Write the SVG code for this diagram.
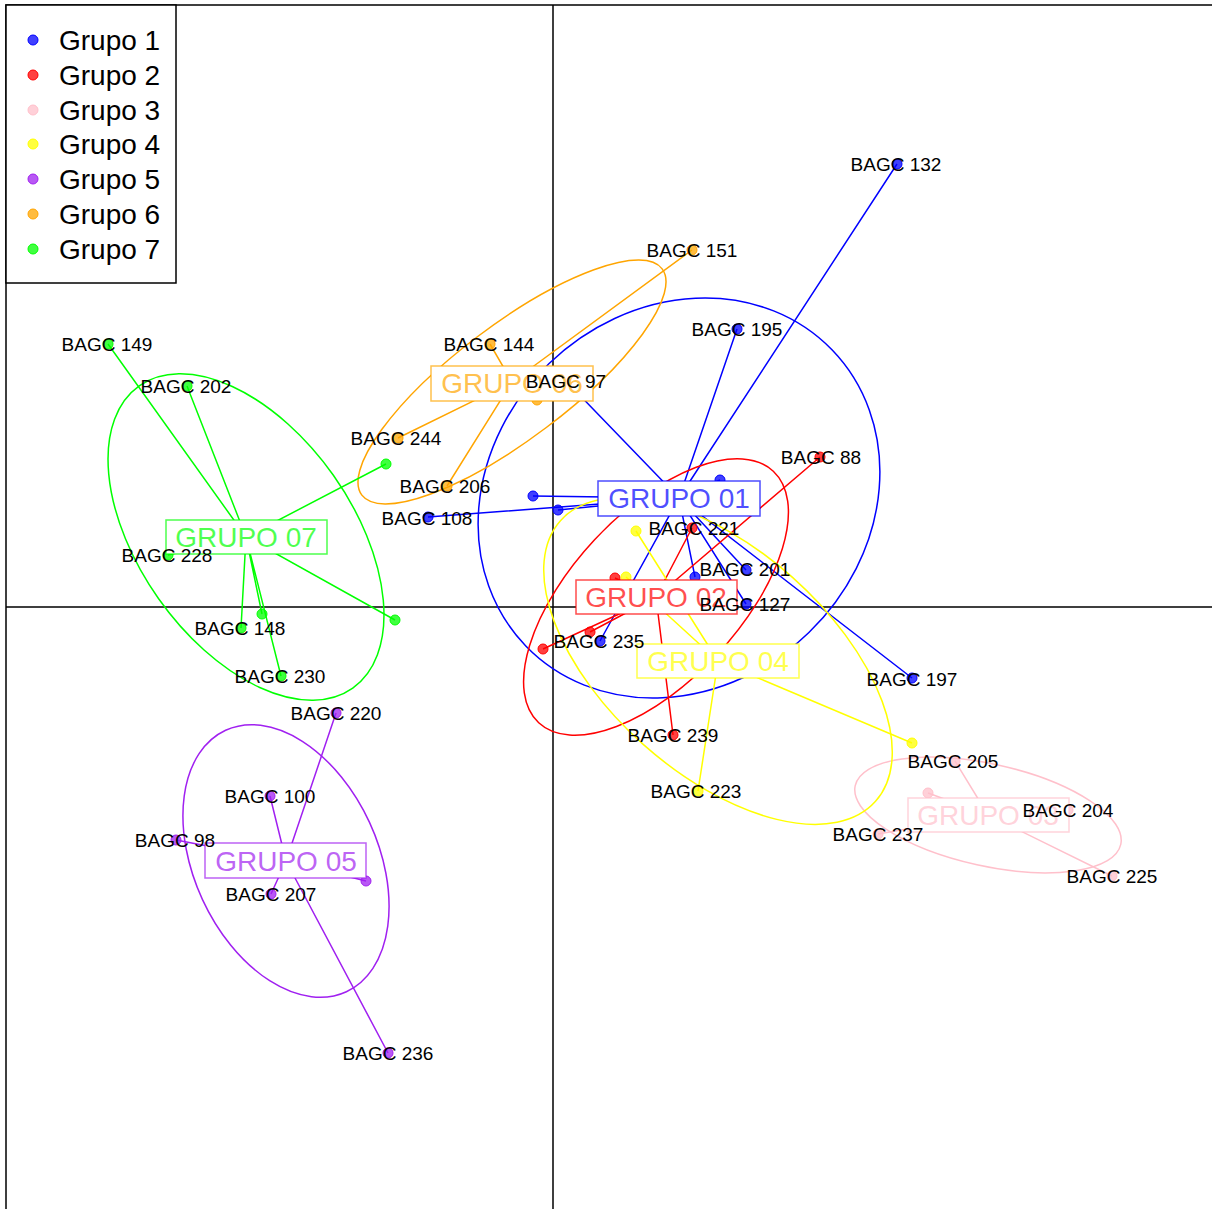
<svg xmlns="http://www.w3.org/2000/svg" width="1212" height="1209" viewBox="0 0 1212 1209">
<style>
text{font-family:"Liberation Sans",Arial,sans-serif}
.ax{stroke:#000;stroke-width:1.5;fill:none}
.lbl{font-size:19px;fill:#000;text-anchor:middle}
.leg{font-size:28px;fill:#000}
.gl{font-size:28px;text-anchor:middle;fill-opacity:0.7}
.gb{fill:#fff;stroke-width:1.5;stroke-opacity:0.7}
.c path,.c ellipse{fill:none;stroke-width:1.5}
.pt{stroke:none;fill-opacity:0.75}
.k1{stroke:#0000ff;fill:#0000ff}.k2{stroke:#ff0000;fill:#ff0000}.k3{stroke:#ffc0cb;fill:#ffc0cb}.k4{stroke:#ffff00;fill:#ffff00}.k5{stroke:#a020f0;fill:#a020f0}.k6{stroke:#ffa500;fill:#ffa500}.k7{stroke:#00ff00;fill:#00ff00}
</style>
<rect width="1212" height="1209" fill="#fff"/>
<g id="axes">
<path class="ax" d="M6,1209V5H1212"/>
<path class="ax" d="M553,5V1209M6,607H1212"/>
</g>
<g id="connectors" class="c">
<g id="c1" class="k1">
<ellipse cx="679" cy="498" rx="213" ry="187" transform="rotate(-44 679 498)" fill="none"/>
<path d="M679,498L897,164M679,498L737,329M679,498L566,381M679,498L428,517M679,498L533,496M679,498L558,510M679,498L720,480M679,498L746,570M679,498L746,604M679,498L912,678M679,498L600,641M679,498L695,577"/>
</g>
<g id="c2" class="k2">
<ellipse cx="656" cy="597" rx="172" ry="84" transform="rotate(-47 656 597)" fill="none"/>
<path d="M656,597L820,457M656,597L692,528M656,597L615,578M656,597L590,632M656,597L543,649M656,597L673,735"/>
</g>
<g id="c3" class="k3">
<ellipse cx="988" cy="815" rx="136" ry="51" transform="rotate(12.5 988 815)" fill="none"/>
<path d="M988,815L955,761M988,815L928,793M988,815L1068,810M988,815L878,834M988,815L1112,876"/>
</g>
<g id="c4" class="k4">
<ellipse cx="718" cy="661" rx="211" ry="112" transform="rotate(41.7 718 661)" fill="none"/>
<path d="M718,661L636,531M718,661L626,577M718,661L912,743M718,661L698,791"/>
</g>
<g id="c5" class="k5">
<ellipse cx="286" cy="861" rx="144" ry="92" transform="rotate(65.2 286 861)" fill="none"/>
<path d="M286,861L336,713M286,861L270,796M286,861L176,840M286,861L271,894M286,861L366,881M286,861L388,1053"/>
</g>
<g id="c6" class="k6">
<ellipse cx="512" cy="382" rx="188" ry="57" transform="rotate(-37 512 382)" fill="none"/>
<path d="M512,382L692,250M512,382L490,344M512,382L398,438M512,382L447,486M512,382L537,400"/>
</g>
<g id="c7" class="k7">
<ellipse cx="246" cy="537" rx="185" ry="107" transform="rotate(54.75 246 537)" fill="none"/>
<path d="M246,537L108,344M246,537L187,386M246,537L386,464M246,537L168,555M246,537L395,620M246,537L241,628M246,537L262,614M246,537L281,676"/>
</g>
</g>
<g id="points">
<g id="p132" class="pt k1"><circle cx="897" cy="164" r="5"/></g>
<g id="p195" class="pt k1"><circle cx="737" cy="329" r="5"/></g>
<g id="p97" class="pt k1"><circle cx="566" cy="381" r="5"/></g>
<g id="p108" class="pt k1"><circle cx="428" cy="517" r="5"/></g>
<g id="p1a" class="pt k1"><circle cx="533" cy="496" r="5"/></g>
<g id="p1b" class="pt k1"><circle cx="558" cy="510" r="5"/></g>
<g id="p1c" class="pt k1"><circle cx="720" cy="480" r="5"/></g>
<g id="p201" class="pt k1"><circle cx="746" cy="570" r="5"/></g>
<g id="p127" class="pt k1"><circle cx="746" cy="604" r="5"/></g>
<g id="p197" class="pt k1"><circle cx="912" cy="678" r="5"/></g>
<g id="p235" class="pt k1"><circle cx="600" cy="641" r="5"/></g>
<g id="p1d" class="pt k1"><circle cx="695" cy="577" r="5"/></g>
<g id="p88" class="pt k2"><circle cx="820" cy="457" r="5"/></g>
<g id="p221" class="pt k2"><circle cx="692" cy="528" r="5"/></g>
<g id="p2a" class="pt k2"><circle cx="615" cy="578" r="5"/></g>
<g id="p2b" class="pt k2"><circle cx="590" cy="632" r="5"/></g>
<g id="p2c" class="pt k2"><circle cx="543" cy="649" r="5"/></g>
<g id="p239" class="pt k2"><circle cx="673" cy="735" r="5"/></g>
<g id="p205" class="pt k3"><circle cx="955" cy="761" r="5"/></g>
<g id="p3a" class="pt k3"><circle cx="928" cy="793" r="5"/></g>
<g id="p204" class="pt k3"><circle cx="1068" cy="810" r="5"/></g>
<g id="p237" class="pt k3"><circle cx="878" cy="834" r="5"/></g>
<g id="p225" class="pt k3"><circle cx="1112" cy="876" r="5"/></g>
<g id="p4a" class="pt k4"><circle cx="636" cy="531" r="5"/></g>
<g id="p4b" class="pt k4"><circle cx="626" cy="577" r="5"/></g>
<g id="p4c" class="pt k4"><circle cx="912" cy="743" r="5"/></g>
<g id="p223" class="pt k4"><circle cx="698" cy="791" r="5"/></g>
<g id="p220" class="pt k5"><circle cx="336" cy="713" r="5"/></g>
<g id="p100" class="pt k5"><circle cx="270" cy="796" r="5"/></g>
<g id="p98" class="pt k5"><circle cx="176" cy="840" r="5"/></g>
<g id="p207" class="pt k5"><circle cx="271" cy="894" r="5"/></g>
<g id="p5a" class="pt k5"><circle cx="366" cy="881" r="5"/></g>
<g id="p236" class="pt k5"><circle cx="388" cy="1053" r="5"/></g>
<g id="p151" class="pt k6"><circle cx="692" cy="250" r="5"/></g>
<g id="p144" class="pt k6"><circle cx="490" cy="344" r="5"/></g>
<g id="p244" class="pt k6"><circle cx="398" cy="438" r="5"/></g>
<g id="p206" class="pt k6"><circle cx="447" cy="486" r="5"/></g>
<g id="p6a" class="pt k6"><circle cx="537" cy="400" r="5"/></g>
<g id="p149" class="pt k7"><circle cx="108" cy="344" r="5"/></g>
<g id="p202" class="pt k7"><circle cx="187" cy="386" r="5"/></g>
<g id="p7a" class="pt k7"><circle cx="386" cy="464" r="5"/></g>
<g id="p228" class="pt k7"><circle cx="168" cy="555" r="5"/></g>
<g id="p7b" class="pt k7"><circle cx="395" cy="620" r="5"/></g>
<g id="p148" class="pt k7"><circle cx="241" cy="628" r="5"/></g>
<g id="p7c" class="pt k7"><circle cx="262" cy="614" r="5"/></g>
<g id="p230" class="pt k7"><circle cx="281" cy="676" r="5"/></g>
</g>
<g id="group-labels">
<g id="g01"><rect class="gb" x="598" y="481" width="162" height="35" stroke="#0000ff"/><text class="gl" x="679" y="508" fill="#0000ff">GRUPO 01</text></g>
<g id="g02"><rect class="gb" x="576" y="580" width="161" height="34" stroke="#ff0000"/><text class="gl" x="656" y="607" fill="#ff0000">GRUPO 02</text></g>
<g id="g03"><rect class="gb" x="908" y="798" width="161" height="34" stroke="#ffc0cb"/><text class="gl" x="988" y="825" fill="#ffc0cb">GRUPO 03</text></g>
<g id="g04"><rect class="gb" x="637" y="644" width="162" height="34" stroke="#ffff00"/><text class="gl" x="718" y="671" fill="#ffff00">GRUPO 04</text></g>
<g id="g05"><rect class="gb" x="205" y="843" width="161" height="35" stroke="#a020f0"/><text class="gl" x="286" y="871" fill="#a020f0">GRUPO 05</text></g>
<g id="g06"><rect class="gb" x="431" y="366" width="162" height="35" stroke="#ffa500"/><text class="gl" x="512" y="393" fill="#ffa500">GRUPO 06</text></g>
<g id="g07"><rect class="gb" x="166" y="520" width="161" height="34" stroke="#00ff00"/><text class="gl" x="246" y="547" fill="#00ff00">GRUPO 07</text></g>
</g>
<g id="point-labels" class="lbl">
<text class="lbl" x="896" y="171">BAGC 132</text>
<text class="lbl" x="737" y="336">BAGC 195</text>
<text class="lbl" x="566" y="388">BAGC 97</text>
<text class="lbl" x="427" y="525">BAGC 108</text>
<text class="lbl" x="745" y="576">BAGC 201</text>
<text class="lbl" x="745" y="611">BAGC 127</text>
<text class="lbl" x="912" y="686">BAGC 197</text>
<text class="lbl" x="599" y="648">BAGC 235</text>
<text class="lbl" x="821" y="464">BAGC 88</text>
<text class="lbl" x="694" y="535">BAGC 221</text>
<text class="lbl" x="673" y="742">BAGC 239</text>
<text class="lbl" x="953" y="768">BAGC 205</text>
<text class="lbl" x="1068" y="817">BAGC 204</text>
<text class="lbl" x="878" y="841">BAGC 237</text>
<text class="lbl" x="1112" y="883">BAGC 225</text>
<text class="lbl" x="696" y="798">BAGC 223</text>
<text class="lbl" x="336" y="720">BAGC 220</text>
<text class="lbl" x="270" y="803">BAGC 100</text>
<text class="lbl" x="175" y="847">BAGC 98</text>
<text class="lbl" x="271" y="901">BAGC 207</text>
<text class="lbl" x="388" y="1060">BAGC 236</text>
<text class="lbl" x="692" y="257">BAGC 151</text>
<text class="lbl" x="489" y="351">BAGC 144</text>
<text class="lbl" x="396" y="445">BAGC 244</text>
<text class="lbl" x="445" y="493">BAGC 206</text>
<text class="lbl" x="107" y="351">BAGC 149</text>
<text class="lbl" x="186" y="393">BAGC 202</text>
<text class="lbl" x="167" y="562">BAGC 228</text>
<text class="lbl" x="240" y="635">BAGC 148</text>
<text class="lbl" x="280" y="683">BAGC 230</text>
</g>
<g id="legend">
<rect x="6" y="5" width="170" height="278" fill="#fff" stroke="#000" stroke-width="1.5"/>
<circle class="pt k1" cx="33" cy="40" r="5"/><text class="leg" x="59" y="50">Grupo 1</text>
<circle class="pt k2" cx="33" cy="75" r="5"/><text class="leg" x="59" y="85">Grupo 2</text>
<circle class="pt k3" cx="33" cy="110" r="5"/><text class="leg" x="59" y="120">Grupo 3</text>
<circle class="pt k4" cx="33" cy="144" r="5"/><text class="leg" x="59" y="154">Grupo 4</text>
<circle class="pt k5" cx="33" cy="179" r="5"/><text class="leg" x="59" y="189">Grupo 5</text>
<circle class="pt k6" cx="33" cy="214" r="5"/><text class="leg" x="59" y="224">Grupo 6</text>
<circle class="pt k7" cx="33" cy="249" r="5"/><text class="leg" x="59" y="259">Grupo 7</text>
</g>
</svg>
